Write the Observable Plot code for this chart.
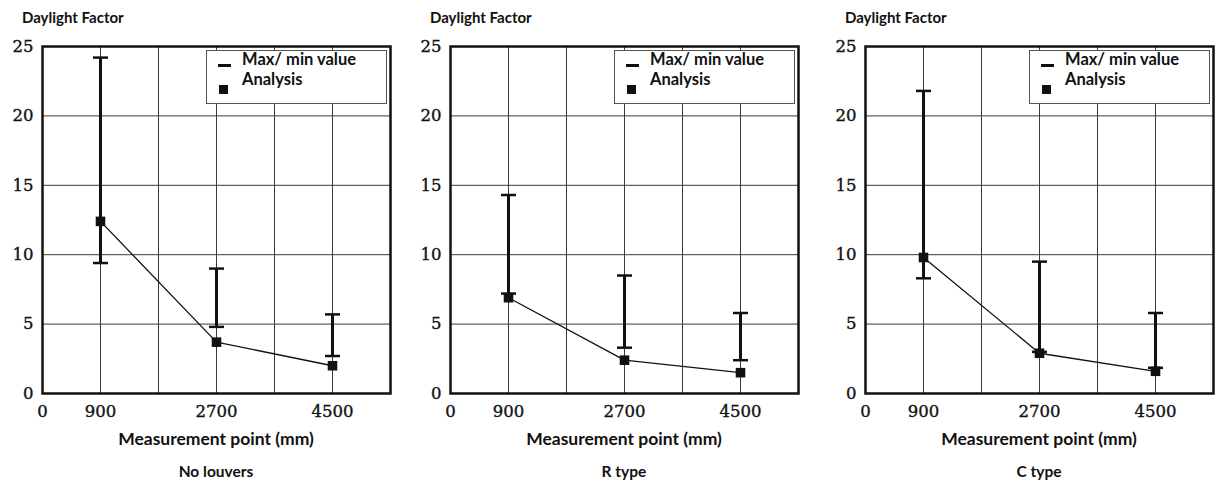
<!DOCTYPE html>
<html><head><meta charset="utf-8">
<script src="https://cdn.jsdelivr.net/npm/d3@7"></script>
<script src="https://cdn.jsdelivr.net/npm/@observablehq/plot@0.6"></script>
<style>
body{margin:0;background:#fff;width:1216px;height:487px;overflow:hidden;position:relative;font-family:Lato,"DejaVu Sans",sans-serif;color:#111;}
.panel{position:absolute;top:0;width:400px;height:487px;}
.panel svg{position:absolute;left:0;top:0;}
.panel svg g[aria-label$="tick label"] text{stroke:#111;stroke-width:0.35px;}
.title{position:absolute;left:22px;top:8px;font-weight:700;font-size:15px;white-space:nowrap;line-height:normal;}
.xlabel,.caption{position:absolute;left:216px;transform:translateX(-50%);font-weight:700;white-space:nowrap;line-height:normal;}
.xlabel{top:428px;font-size:17.5px;}
.caption{top:462px;font-size:15.5px;}
.legend{position:absolute;left:206px;top:50px;width:181px;height:54px;border:1px solid #555;background:#fff;box-sizing:border-box;}
.legend .t{position:absolute;left:35px;font-weight:700;font-size:16.5px;white-space:nowrap;line-height:normal;}
.legend .dash{position:absolute;left:11px;top:13px;width:13px;height:3px;background:#111;}
.legend .sq{position:absolute;left:12px;top:34px;width:9px;height:9px;background:#111;}
</style>
</head><body>
<div id="root"></div>
<script>
// ---- data ----
const positions = [900, 2700, 4500];
const panelNames = ["No louvers", "R type", "C type"];
const analysisNoLouvers = [12.4, 3.7, 2.0];
const maxNoLouvers = [24.2, 9.0, 5.7];
const minNoLouvers = [9.4, 4.8, 2.7];
const analysisR = [6.9, 2.4, 1.5];
const maxR = [14.3, 8.5, 5.8];
const minR = [7.2, 3.3, 2.4];
const analysisC = [9.8, 2.9, 1.6];
const maxC = [21.8, 9.5, 5.8];
const minC = [8.3, 3.0, 1.85];
const xTickLabels = [0, 900, 2700, 4500];
const xGridLines = [900, 1800, 2700, 3600, 4500];
const yTicks = [0, 5, 10, 15, 20, 25];
const yGridLines = [5, 10, 15, 20];
const xDomain = [0, 5400];
const yDomain = [0, 25];
const yLabel = "Daylight Factor";
const xLabel = "Measurement point (mm)";
const legendLabels = ["Max/ min value", "Analysis"];

const series = [
  {analysis: analysisNoLouvers, max: maxNoLouvers, min: minNoLouvers},
  {analysis: analysisR, max: maxR, min: minR},
  {analysis: analysisC, max: maxC, min: minC}
];
const panelLefts = [0, 408, 823];
const tickFont = "'DejaVu Serif', 'Liberation Serif', serif";

const capSymbol = {
  draw(ctx, size) {
    const w = Math.sqrt(size / Math.PI);
    ctx.moveTo(-w, 0);
    ctx.lineTo(w, 0);
  }
};

const root = document.getElementById("root");
series.forEach((s, i) => {
  const data = positions.map((x, j) => ({x, analysis: s.analysis[j], max: s.max[j], min: s.min[j]}));
  const div = document.createElement("div");
  div.className = "panel";
  div.style.left = panelLefts[i] + "px";
  const chart = Plot.plot({
    width: 393, height: 423,
    marginLeft: 42, marginRight: 3, marginTop: 46, marginBottom: 30,
    style: {background: "transparent", fontFamily: tickFont, fontSize: "16.5px", color: "#111"},
    x: {domain: xDomain},
    y: {domain: yDomain},
    marks: [
      Plot.gridX(xGridLines, {stroke: "#3a3a3a", strokeOpacity: 1, strokeWidth: 1}),
      Plot.gridY(yGridLines, {stroke: "#3a3a3a", strokeOpacity: 1, strokeWidth: 1}),
      Plot.frame({stroke: "#111", strokeWidth: 2.5}),
      Plot.axisX(xTickLabels, {tickSize: 0, tickPadding: 12, label: null, tickFormat: d3.format("d"), fontFamily: tickFont, fontSize: 16.5}),
      Plot.axisY(yTicks, {tickSize: 0, tickPadding: 9, label: null, tickFormat: d3.format("d"), fontFamily: tickFont, fontSize: 16.5}),
      Plot.line(data, {x: "x", y: "analysis", stroke: "#111", strokeWidth: 1.3}),
      Plot.ruleX(data, {x: "x", y1: "min", y2: "max", stroke: "#111", strokeWidth: 3}),
      Plot.dot(data, {x: "x", y: "max", symbol: capSymbol, r: 7.5, stroke: "#111", strokeWidth: 2.5, fill: "none"}),
      Plot.dot(data, {x: "x", y: "min", symbol: capSymbol, r: 7.5, stroke: "#111", strokeWidth: 2.5, fill: "none"}),
      Plot.dot(data, {x: "x", y: "analysis", symbol: "square", r: 5.4, fill: "#111", stroke: "none"})
    ]
  });
  div.appendChild(chart);
  const t = document.createElement("div"); t.className = "title"; t.textContent = yLabel; div.appendChild(t);
  const xl = document.createElement("div"); xl.className = "xlabel"; xl.textContent = xLabel; div.appendChild(xl);
  const cap = document.createElement("div"); cap.className = "caption"; cap.textContent = panelNames[i]; div.appendChild(cap);
  const lg = document.createElement("div"); lg.className = "legend";
  lg.innerHTML = '<div class="dash"></div><div class="t" style="top:-2px"></div><div class="sq"></div><div class="t" style="top:18px"></div>';
  const ts = lg.querySelectorAll(".t");
  ts[0].textContent = legendLabels[0];
  ts[1].textContent = legendLabels[1];
  div.appendChild(lg);
  root.appendChild(div);
});
</script>
</body></html>
